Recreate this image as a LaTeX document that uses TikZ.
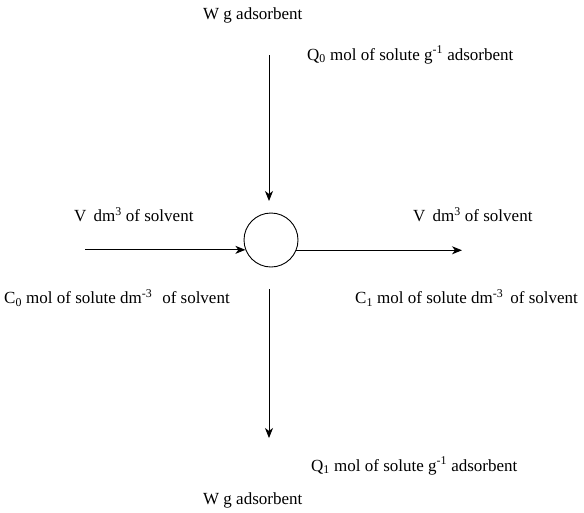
\documentclass[tikz,border=0pt]{standalone}
\usepackage{fontspec}
\setmainfont{Liberation Serif}
\usetikzlibrary{arrows.meta}
\begin{document}
\begin{tikzpicture}[x=1pt,y=-1pt,
  lbl/.style={inner sep=0pt,font=\fontsize{17}{20}\selectfont},
  flow/.style={line width=0.9pt,-{Stealth[length=10pt,width=8pt,inset=3pt]}},
  vessel/.style={draw,circle,line width=0.9pt,minimum size=54pt,inner sep=0pt}]
\useasboundingbox (0,0) rectangle (584,512);
\node[vessel] (c) at (271,240) {};
\coordinate (tin) at (269,55);
\coordinate (tout) at (269,201);
\coordinate (lin) at (85,250);
\coordinate (rout) at (462,250);
\coordinate (bin) at (269,289);
\coordinate (bout) at (269,438);
\draw[flow] (tin) -- (tout);
\draw[flow] (c.201.7 -| lin) -- (c.201.7);
\draw[flow] (c.338.3) -- (c.338.3 -| rout);
\draw[flow] (bin) -- (bout);
\node[lbl,anchor=west] (w1) at (203,15) {W g adsorbent};
\node[lbl,anchor=west] (q0) at (307,55) {Q\textsubscript{0} mol of solute g\textsuperscript{-1} adsorbent};
\node[lbl,anchor=west] (v1) at (74,215) {V\, dm\textsuperscript{3} of solvent};
\node[lbl,anchor=west] (v2) at (413,215) {V\, dm\textsuperscript{3} of solvent};
\node[lbl,anchor=west] (c0) at (4,298) {C\textsubscript{0} mol of solute dm\textsuperscript{-3}\,\, of solvent};
\node[lbl,anchor=west] (c1) at (355,298) {C\textsubscript{1} mol of solute dm\textsuperscript{-3}\, of solvent};
\node[lbl,anchor=west] (q1) at (311,466) {Q\textsubscript{1} mol of solute g\textsuperscript{-1} adsorbent};
\node[lbl,anchor=west] (w2) at (203,500) {W g adsorbent};
\end{tikzpicture}
\end{document}
